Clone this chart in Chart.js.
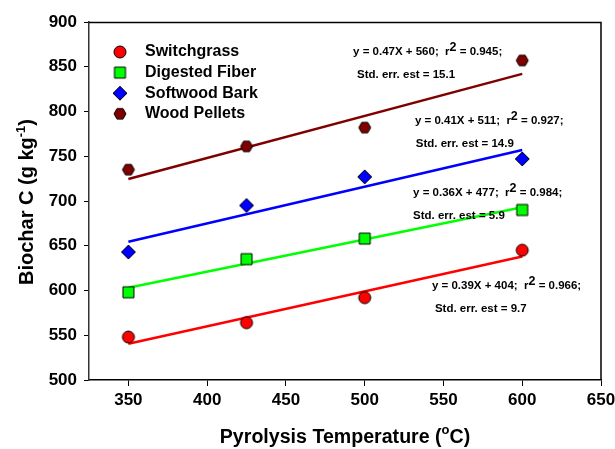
<!DOCTYPE html>
<html>
<head>
<meta charset="utf-8">
<script src="https://cdn.jsdelivr.net/npm/chart.js@4.4.0/dist/chart.umd.min.js"></script>
<style>
  html, body { margin: 0; padding: 0; background: #fff; }
  #wrap { width: 615px; height: 449px; }
</style>
</head>
<body>
<div id="wrap"><canvas id="c" width="615" height="449"></canvas></div>
<script>
// Pyrolysis temperatures (°C) at which each feedstock was charred
const temperatures = [350, 425, 500, 600];

// Biochar carbon content (g kg-1) per feedstock
const seriesNames = ['Switchgrass', 'Digested Fiber', 'Softwood Bark', 'Wood Pellets'];
const switchgrass = [548, 564, 592, 645];
const digestedFiber = [598, 635, 658, 690];
const softwoodBark = [643, 695, 727, 747];
const woodPellets = [735, 761, 782, 857];

// Linear regression results per feedstock (same order as seriesNames)
const slopes = [0.39, 0.36, 0.41, 0.47];
const intercepts = [404, 477, 511, 560];
const rSquared = ['0.966', '0.984', '0.927', '0.945'];
const stdErrors = ['9.7', '5.9', '14.9', '15.1'];
const fitRange = [350, 600];

// Axis ticks
const xTicks = [350, 400, 450, 500, 550, 600, 650];
const yTicks = [500, 550, 600, 650, 700, 750, 800, 850, 900];

const FONT = "'Liberation Sans', Arial, Helvetica, sans-serif";
const colors = ['#ff0000', '#00ff00', '#0000ff', '#800000'];
const shapes = ['circle', 'square', 'diamond', 'hexagon'];
const markerSizes = [12, 11, 14, 12];

// Build a marker sprite with a thin black outline
function makeMarker(shape, fill, size) {
  const pad = 2;
  const c = document.createElement('canvas');
  c.width = c.height = size + pad * 2;
  const g = c.getContext('2d');
  const m = c.width / 2, r = size / 2;
  g.fillStyle = fill;
  g.strokeStyle = '#000';
  g.lineWidth = 1;
  g.beginPath();
  if (shape === 'circle') {
    g.arc(m, m, r, 0, Math.PI * 2);
  } else if (shape === 'square') {
    g.rect(m - r, m - r, size, size);
  } else if (shape === 'diamond') {
    g.moveTo(m, m - r); g.lineTo(m + r, m); g.lineTo(m, m + r); g.lineTo(m - r, m);
    g.closePath();
  } else {
    for (let k = 0; k < 6; k++) {
      const a = Math.PI / 3 * k;
      const px = m + r * Math.cos(a), py = m + r * Math.sin(a);
      if (k === 0) g.moveTo(px, py); else g.lineTo(px, py);
    }
    g.closePath();
  }
  g.fill();
  g.stroke();
  return c;
}

const markers = shapes.map((s, i) => makeMarker(s, colors[i], markerSizes[i]));
const values = [switchgrass, digestedFiber, softwoodBark, woodPellets];

const pointSets = values.map((vals, i) => ({
  label: seriesNames[i],
  type: 'scatter',
  data: temperatures.map((t, k) => ({ x: t, y: vals[k] })),
  pointStyle: markers[i],
  showLine: false,
  order: 0
}));

const fitSets = slopes.map((m, i) => ({
  label: seriesNames[i] + ' fit',
  type: 'line',
  data: fitRange.map(t => ({ x: t, y: m * t + intercepts[i] })),
  borderColor: colors[i],
  borderWidth: 2.5,
  pointRadius: 0,
  fill: false,
  order: 1
}));

// Where each regression note is anchored, in data units
const noteAnchors = [
  { x: 542.7, y: 605.0, x2: 544.6, y2: 579.5 },
  { x: 530.7, y: 709.0, x2: 530.7, y2: 683.5 },
  { x: 531.9, y: 789.5, x2: 532.4, y2: 763.5 },
  { x: 492.6, y: 866.5, x2: 495.1, y2: 841.0 }
];

// Draw a run of text pieces, some raised as superscripts
function drawRich(ctx, parts, x, y, size, supSize, rise) {
  let cx = x;
  parts.forEach(p => {
    ctx.font = 'bold ' + (p.sup ? supSize : size) + 'px ' + FONT;
    ctx.fillText(p.t, cx, p.sup ? y - rise : y);
    cx += ctx.measureText(p.t).width;
  });
  return cx - x;
}
function richWidth(ctx, parts, size, supSize) {
  let w = 0;
  parts.forEach(p => {
    ctx.font = 'bold ' + (p.sup ? supSize : size) + 'px ' + FONT;
    w += ctx.measureText(p.t).width;
  });
  return w;
}

const decorations = {
  id: 'decorations',
  afterDraw(chart) {
    const ctx = chart.ctx;
    const a = chart.chartArea;
    const xs = chart.scales.x, ys = chart.scales.y;
    ctx.save();

    // top and right frame lines
    ctx.strokeStyle = '#000';
    ctx.lineWidth = 1.5;
    ctx.beginPath();
    ctx.moveTo(a.left, a.top + 0.5);
    ctx.lineTo(a.right, a.top + 0.5);
    ctx.lineTo(a.right, a.bottom);
    ctx.stroke();

    // legend
    ctx.fillStyle = '#000';
    ctx.textBaseline = 'middle';
    ctx.textAlign = 'left';
    seriesNames.forEach((name, i) => {
      const y = a.top + 30 + i * 20.6;
      const mk = markers[i];
      ctx.drawImage(mk, a.left + 31 - mk.width / 2, y - mk.height / 2);
      ctx.font = 'bold 16px ' + FONT;
      ctx.fillText(name, a.left + 56, y);
    });

    // regression notes
    noteAnchors.forEach((n, i) => {
      const px = xs.getPixelForValue(n.x), py = ys.getPixelForValue(n.y);
      drawRich(ctx, [
        { t: 'y = ' + slopes[i].toFixed(2) + 'X + ' + intercepts[i] + ';  r' },
        { t: '2', sup: true },
        { t: ' = ' + rSquared[i] + ';' }
      ], px, py, 11.5, 12.5, 4.5);
      ctx.font = 'bold 11.5px ' + FONT;
      ctx.fillText('Std. err. est = ' + stdErrors[i], xs.getPixelForValue(n.x2), ys.getPixelForValue(n.y2));
    });

    // x axis title
    ctx.textBaseline = 'alphabetic';
    const xParts = [{ t: 'Pyrolysis Temperature (' }, { t: 'o', sup: true }, { t: 'C)' }];
    const xw = richWidth(ctx, xParts, 19.6, 13);
    drawRich(ctx, xParts, 345 - xw / 2, 443, 19.6, 13, 9.5);

    // y axis title
    const yParts = [{ t: 'Biochar C (g kg' }, { t: '-1', sup: true }, { t: ')' }];
    const yw = richWidth(ctx, yParts, 20, 13);
    ctx.translate(33, 202);
    ctx.rotate(-Math.PI / 2);
    drawRich(ctx, yParts, -yw / 2, 0, 20, 13, 8);

    ctx.restore();
  }
};

new Chart(document.getElementById('c'), {
  data: { datasets: [...pointSets, ...fitSets] },
  options: {
    responsive: false,
    animation: false,
    devicePixelRatio: 1,
    events: [],
    layout: { padding: { top: 22, right: 14, left: 0, bottom: 0 } },
    plugins: { legend: { display: false }, tooltip: { enabled: false } },
    scales: {
      x: {
        type: 'linear',
        min: 325,
        max: 650,
        afterBuildTicks: s => { s.ticks = xTicks.map(v => ({ value: v })); },
        afterFit: s => { s.height = 69; s.paddingLeft = 0; s.paddingRight = 0; },
        grid: { drawOnChartArea: false, drawTicks: true, tickLength: 6, color: '#000' },
        border: { display: true, color: '#000', width: 1.5 },
        ticks: { color: '#000', padding: 4, font: { family: FONT, size: 17, weight: 'bold' } }
      },
      y: {
        type: 'linear',
        min: 500,
        max: 900,
        afterBuildTicks: s => { s.ticks = yTicks.map(v => ({ value: v })); },
        afterFit: s => { s.width = 89; s.paddingTop = 0; s.paddingBottom = 0; },
        grid: { drawOnChartArea: false, drawTicks: true, tickLength: 5, color: '#000' },
        border: { display: true, color: '#333', width: 1.5 },
        ticks: { color: '#000', padding: 7, font: { family: FONT, size: 17, weight: 'bold' } }
      }
    }
  },
  plugins: [decorations]
});
</script>
</body>
</html>
